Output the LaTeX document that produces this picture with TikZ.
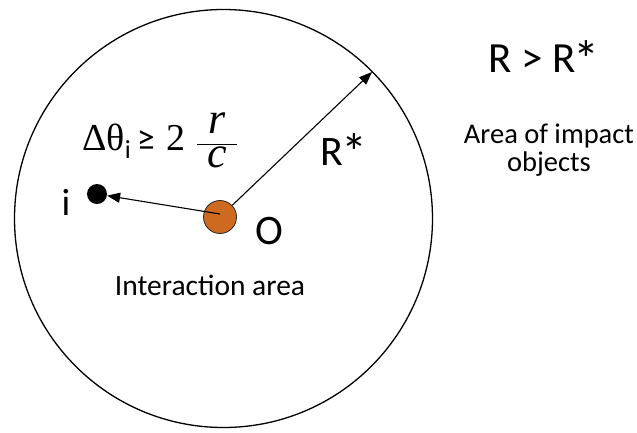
\documentclass[tikz,border=0pt]{standalone}
\usepackage{fontspec}
\setmainfont{Carlito}
\newfontfamily\serifgr{Liberation Serif}
\usetikzlibrary{arrows.meta}
\definecolor{dotorange}{RGB}{205,106,32}
\newcommand{\bigast}{\kern-2pt\raisebox{-5pt}{\fontsize{52}{52}\selectfont *}}
\tikzset{
  lbl/.style={inner sep=0pt, anchor=base},
  arr/.style={line width=1.1pt, -{Triangle[length=13pt,width=10pt]}},
}
\begin{document}
\begin{tikzpicture}[x=1pt,y=-1pt]
\useasboundingbox (0,0) rectangle (637,432);
% big circle
\node[circle, draw, line width=1.3pt, minimum size=418pt, inner sep=0pt] (area) at (223.5,218.5) {};
\coordinate (rtip) at (372,72);
% dots
\node[circle, fill=dotorange, draw=black!85, line width=0.8pt, minimum size=33pt, inner sep=0pt] (odot) at (220,217) {};
\node[circle, fill=black, minimum size=20pt, inner sep=0pt] (idot) at (97,194) {};
\coordinate (ostart) at (220,214);
% arrows
\draw[arr] (odot) -- (rtip);
\draw[arr] (ostart) -- (idot);
% labels
\node[lbl, font=\fontsize{42}{42}\selectfont] (rstar) at (344,165) {R\bigast};
\node[lbl, font=\fontsize{42}{42}\selectfont] (olbl) at (269,244) {O};
\node[lbl, font=\fontsize{38}{38}\selectfont] (ilbl) at (66,215) {i};
\node[lbl, font=\fontsize{29.5}{29.5}\selectfont] (inter) at (210,295) {Interaction area};
\node[lbl, font=\fontsize{43}{43}\selectfont] (cond) at (544,72) {R > R\bigast};
\node[lbl, font=\fontsize{28.5}{28.5}\selectfont] (imp1) at (549,143) {Area of impact};
\node[lbl, font=\fontsize{28.5}{28.5}\selectfont] (imp2) at (549,171) {objects};
% formula
\node[inner sep=0pt, anchor=base west, font=\fontsize{38}{40}\selectfont] (formula) at (82,150)
  {\serifgr Δθ\raisebox{-8pt}{\fontsize{26}{26}\selectfont\rmfamily i}\hspace{6pt}{\rmfamily\fontsize{36}{36}\selectfont ≥}\hspace{12pt}2\hspace{10pt}$\displaystyle\frac{\hbox to 40pt{\hss\fontsize{44}{44}\selectfont\itshape r\hss}}{\hbox to 40pt{\hss\fontsize{44}{44}\selectfont\itshape c\hss}}$};
\end{tikzpicture}
\end{document}
